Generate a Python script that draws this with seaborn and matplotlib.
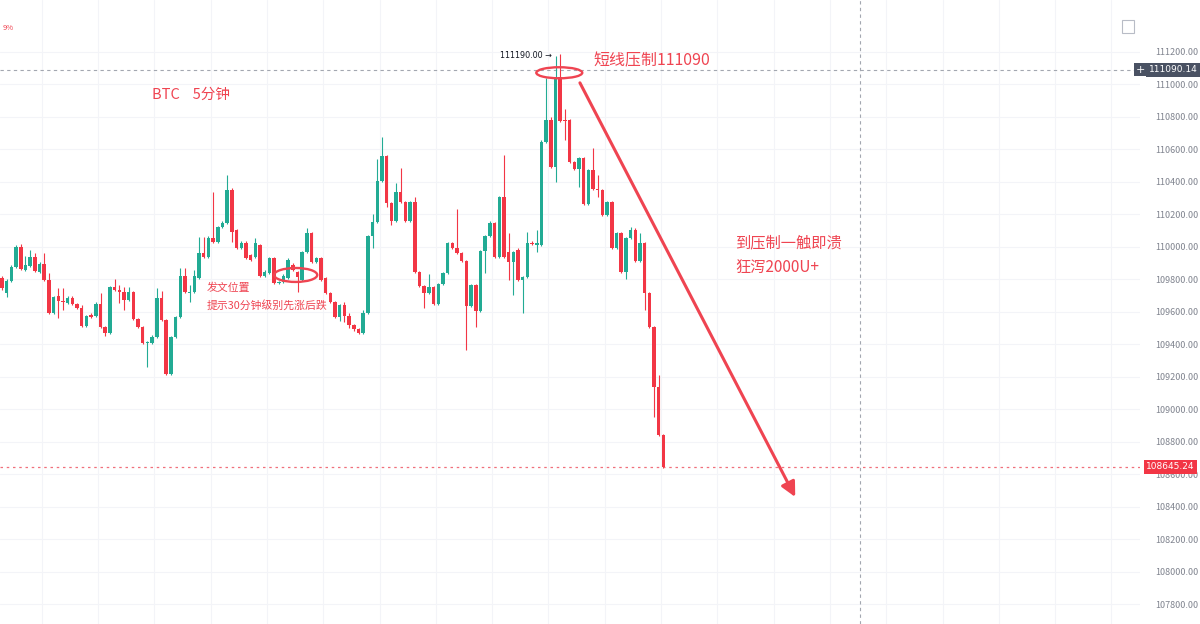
import numpy as np
import pandas as pd
import matplotlib
matplotlib.use("Agg")
import matplotlib.pyplot as plt
import matplotlib.transforms as mtransforms
import seaborn as sns
from matplotlib.patches import Ellipse, Rectangle
from matplotlib.ticker import FixedLocator, FuncFormatter

# ---------- Data (BTC 5min candles) ----------
opens = [109808, 109716, 109790, 109876, 109999, 109858, 109882, 109938, 109845, 109895,
         109796, 109593, 109697, 109667, 109654, 109685, 109648, 109624, 109513, 109580,
         109574, 109648, 109507, 109470, 109753, 109734, 109722, 109673, 109722, 109556,
         109507, 109408, 109408, 109445, 109685, 109550, 109217, 109445, 109568, 109821,
         109716, 109722, 109808, 109962, 109938, 110055, 110030, 110122, 110147, 110350,
         110104, 109993, 110024, 109950, 109938, 110012, 109821, 109839, 109931, 109778,
         109784, 109808, 109888, 109845, 109796, 109968, 110085, 109907, 109931, 109808,
         109716, 109661, 109568, 109642, 109574, 109519, 109494, 109470, 109593, 110067,
         110153, 110406, 110559, 110270, 110159, 110338, 110276, 110159, 110276, 109845,
         109759, 109716, 109753, 109648, 109771, 109839, 110024, 109993, 109962, 109913,
         109636, 109765, 109605, 109975, 110067, 110147, 109938, 110307, 109968, 109907,
         109981, 109796, 109814, 110024, 110012, 110012, 110646, 110781, 110492, 111046,
         110781, 110781, 110523, 110479, 110547, 110264, 110473, 110356, 110350, 110196,
         110276, 109993, 110085, 109845, 110055, 110104, 109913, 110024, 109716, 109507,
         109137, 108842]
highs = [109820, 109800, 109888, 110012, 110018, 109944, 109981, 109962, 109905, 109962,
         109839, 109700, 109747, 109747, 109700, 109697, 109654, 109642, 109580, 109590,
         109660, 109716, 109513, 109760, 109802, 109765, 109753, 109753, 109730, 109562,
         109513, 109420, 109455, 109747, 109728, 109556, 109451, 109575, 109870, 109870,
         109765, 109858, 110061, 110061, 110065, 110338, 110130, 110160, 110443, 110360,
         110110, 110035, 110035, 109956, 110055, 110020, 109855, 109940, 109940, 109790,
         109830, 109930, 109901, 109851, 109975, 110116, 110092, 109940, 109940, 109814,
         109722, 109667, 109650, 109660, 109590, 109525, 109500, 109610, 110075, 110200,
         110541, 110676, 110566, 110276, 110393, 110486, 110282, 110282, 110307, 109851,
         109765, 109833, 109760, 109778, 109845, 110030, 110030, 110233, 109968, 109919,
         109771, 109771, 109981, 110075, 110160, 110153, 110313, 110566, 110085, 109975,
         109990, 109820, 110092, 110035, 110104, 110655, 111040, 110800, 111175, 111190,
         110849, 110790, 110530, 110555, 110555, 110480, 110609, 110443, 110356, 110282,
         110282, 110092, 110092, 110061, 110122, 110116, 110085, 110030, 109722, 109513,
         109211, 108850]
lows = [109734, 109691, 109784, 109870, 109858, 109851, 109876, 109845, 109839, 109790,
        109587, 109587, 109562, 109611, 109648, 109642, 109618, 109507, 109507, 109560,
        109568, 109500, 109451, 109465, 109728, 109654, 109611, 109667, 109550, 109500,
        109400, 109260, 109400, 109440, 109545, 109211, 109211, 109440, 109562, 109716,
        109661, 109716, 109802, 109930, 109931, 110024, 110024, 110116, 110140, 110030,
        109987, 109987, 109925, 109913, 109931, 109814, 109814, 109833, 109771, 109771,
        109778, 109802, 109851, 109722, 109790, 109962, 109901, 109901, 109790, 109710,
        109654, 109562, 109545, 109540, 109500, 109480, 109462, 109465, 109587, 109993,
        110147, 110400, 110245, 110135, 110153, 110270, 110153, 110153, 109839, 109753,
        109624, 109710, 109642, 109642, 109765, 109833, 109987, 109956, 109907, 109365,
        109630, 109507, 109599, 109839, 110061, 109931, 109931, 109931, 109796, 109704,
        109790, 109593, 109808, 110012, 109968, 110005, 110640, 110486, 110399, 110770,
        110658, 110517, 110473, 110369, 110258, 110258, 110350, 110307, 110190, 110190,
        109987, 109987, 109839, 109802, 110048, 109907, 109907, 109611, 109500, 108952,
        108836, 108640]
closes = [109747, 109790, 109876, 109999, 109864, 109888, 109938, 109851, 109895, 109796,
          109593, 109691, 109667, 109661, 109685, 109648, 109624, 109513, 109574, 109568,
          109648, 109507, 109470, 109753, 109734, 109722, 109673, 109722, 109556, 109507,
          109408, 109414, 109445, 109685, 109550, 109217, 109445, 109568, 109821, 109722,
          109722, 109821, 109962, 109938, 110055, 110030, 110122, 110147, 110350, 110092,
          109993, 110024, 109931, 109919, 110024, 109821, 109845, 109931, 109778, 109784,
          109821, 109919, 109858, 109814, 109968, 110085, 109907, 109931, 109796, 109716,
          109661, 109568, 109642, 109574, 109519, 109494, 109470, 109593, 110067, 110153,
          110406, 110559, 110270, 110159, 110338, 110276, 110159, 110276, 109845, 109759,
          109716, 109753, 109648, 109771, 109839, 110024, 109993, 109962, 109913, 109636,
          109765, 109605, 109975, 110067, 110147, 109938, 110307, 109938, 109907, 109968,
          109796, 109814, 110024, 110020, 110024, 110646, 110781, 110492, 111046, 110775,
          110775, 110523, 110479, 110547, 110264, 110473, 110356, 110350, 110196, 110276,
          109993, 110085, 109845, 110055, 110104, 109913, 110024, 109716, 109507, 109137,
          108842, 108645.24]

price_ticks = list(range(107800, 111201, 200))
crosshair_price = 111090.14
last_price = 108645.24
swing_high = 111190.00

UP = "#22ab94"
DOWN = "#f23645"
NOTE = "#ef4451"

# ---------- Plot ----------
sns.set_theme(style="white")
plt.rcParams['font.family'] = ['Noto Sans CJK SC', 'DejaVu Sans']

df = pd.DataFrame({"open": opens, "high": highs, "low": lows, "close": closes})
df["idx"] = np.arange(len(df))
df["color"] = np.where(df["close"] >= df["open"], UP, DOWN)
df["body_lo"] = df[["open", "close"]].min(axis=1)
df["body_h"] = (df["close"] - df["open"]).abs().clip(lower=6)

fig = plt.figure(figsize=(12, 6.24), dpi=100)
ax = fig.add_axes([0, 0, 0.95, 1])
ax.set_xlim(-0.43, 242.6)
ax.set_ylim(107678, 111520)

# grid
for gx in np.arange(8.5, 242, 12):
    ax.axvline(gx, color="#f3f4f8", lw=0.8, zorder=0)
for gy in price_ticks:
    ax.axhline(gy, color="#f3f4f8", lw=0.8, zorder=0)

# candles
ax.vlines(df["idx"], df["low"], df["high"], colors=df["color"], lw=0.8, zorder=2)
ax.bar(df["idx"], df["body_h"], bottom=df["body_lo"], width=0.74,
       color=df["color"], linewidth=0, zorder=3)

# crosshair + last price line
ax.axhline(crosshair_price, color="#a3a7b0", lw=0.8, dashes=(3, 3), zorder=1)
ax.axvline(182.9, color="#a3a7b0", lw=0.8, dashes=(3, 3), zorder=1)
ax.axhline(last_price, color="#f0707c", lw=0.9, dashes=(2, 3), zorder=1)

# right price axis
ax.yaxis.tick_right()
ax.yaxis.set_major_locator(FixedLocator(price_ticks))
ax.yaxis.set_major_formatter(FuncFormatter(lambda v, p: f"{v:.2f}"))
ax.tick_params(axis="y", length=0, pad=11, labelsize=6.5, labelcolor="#80848f")
ax.set_xticks([])
for s in ax.spines.values():
    s.set_visible(False)

trans = mtransforms.blended_transform_factory(ax.transAxes, ax.transData)
ax.text(1.0075, crosshair_price, f"{crosshair_price:.2f}", transform=trans, color="white",
        fontsize=6.5, va="center", ha="left", zorder=10, family="DejaVu Sans",
        bbox=dict(boxstyle="square,pad=0.3", fc="#4a5263", ec="none"))
ax.text(1.0005, crosshair_price, "+", transform=trans, color="white", fontsize=8,
        va="center", ha="center", zorder=10, family="DejaVu Sans",
        bbox=dict(boxstyle="square,pad=0.15", fc="#4a5263", ec="none"))
ax.text(1.0055, last_price, f"{last_price:.2f}", transform=trans, color="white",
        fontsize=6.5, va="center", ha="left", zorder=10, family="DejaVu Sans",
        bbox=dict(boxstyle="square,pad=0.3", fc=DOWN, ec="none"))

# swing high marker
ax.text(117.3, 111181, f"{swing_high:.2f} →", fontsize=5.8, color="#131722",
        ha="right", va="center", family="DejaVu Sans")

# annotations
ax.text(0.002, 0.955, "9%", transform=ax.transAxes, fontsize=5.5, color=NOTE,
        ha="left", va="center")
ax.text(32.0, 110935, "BTC    5分钟", fontsize=10.5, color=NOTE, va="center", ha="left")
ax.text(126.0, 111147, "短线压制111090", fontsize=11.5, color=NOTE, va="center", ha="left")
ax.text(156.3, 110024, "到压制一触即溃", fontsize=11, color=NOTE, va="center", ha="left")
ax.text(156.3, 109876, "狂泻2000U+", fontsize=11, color=NOTE, va="center", ha="left")
ax.text(43.7, 109747, "发文位置", fontsize=7.8, color=NOTE, va="center", ha="left")
ax.text(43.7, 109642, "提示30分钟级别先涨后跌", fontsize=7.8, color=NOTE, va="center", ha="left")

ax.add_patch(Ellipse((118.8, 111072), width=9.8, height=68, fill=False,
                     ec=NOTE, lw=1.7, zorder=6))
ax.add_patch(Ellipse((62.6, 109827), width=9.2, height=86, fill=False,
                     ec=NOTE, lw=1.7, zorder=6))
ax.annotate("", xy=(169.1, 108460), xytext=(123.2, 111010),
            arrowprops=dict(arrowstyle="-|>", color=NOTE, lw=2.2,
                            mutation_scale=22, shrinkA=0, shrinkB=0), zorder=6)

# small expand icon top-right
ax.add_patch(Rectangle((0.984, 0.947), 0.0105, 0.0208, transform=ax.transAxes,
                       fill=False, ec="#b8bcc6", lw=0.8, clip_on=False))

fig.savefig("out.png", dpi=100)
